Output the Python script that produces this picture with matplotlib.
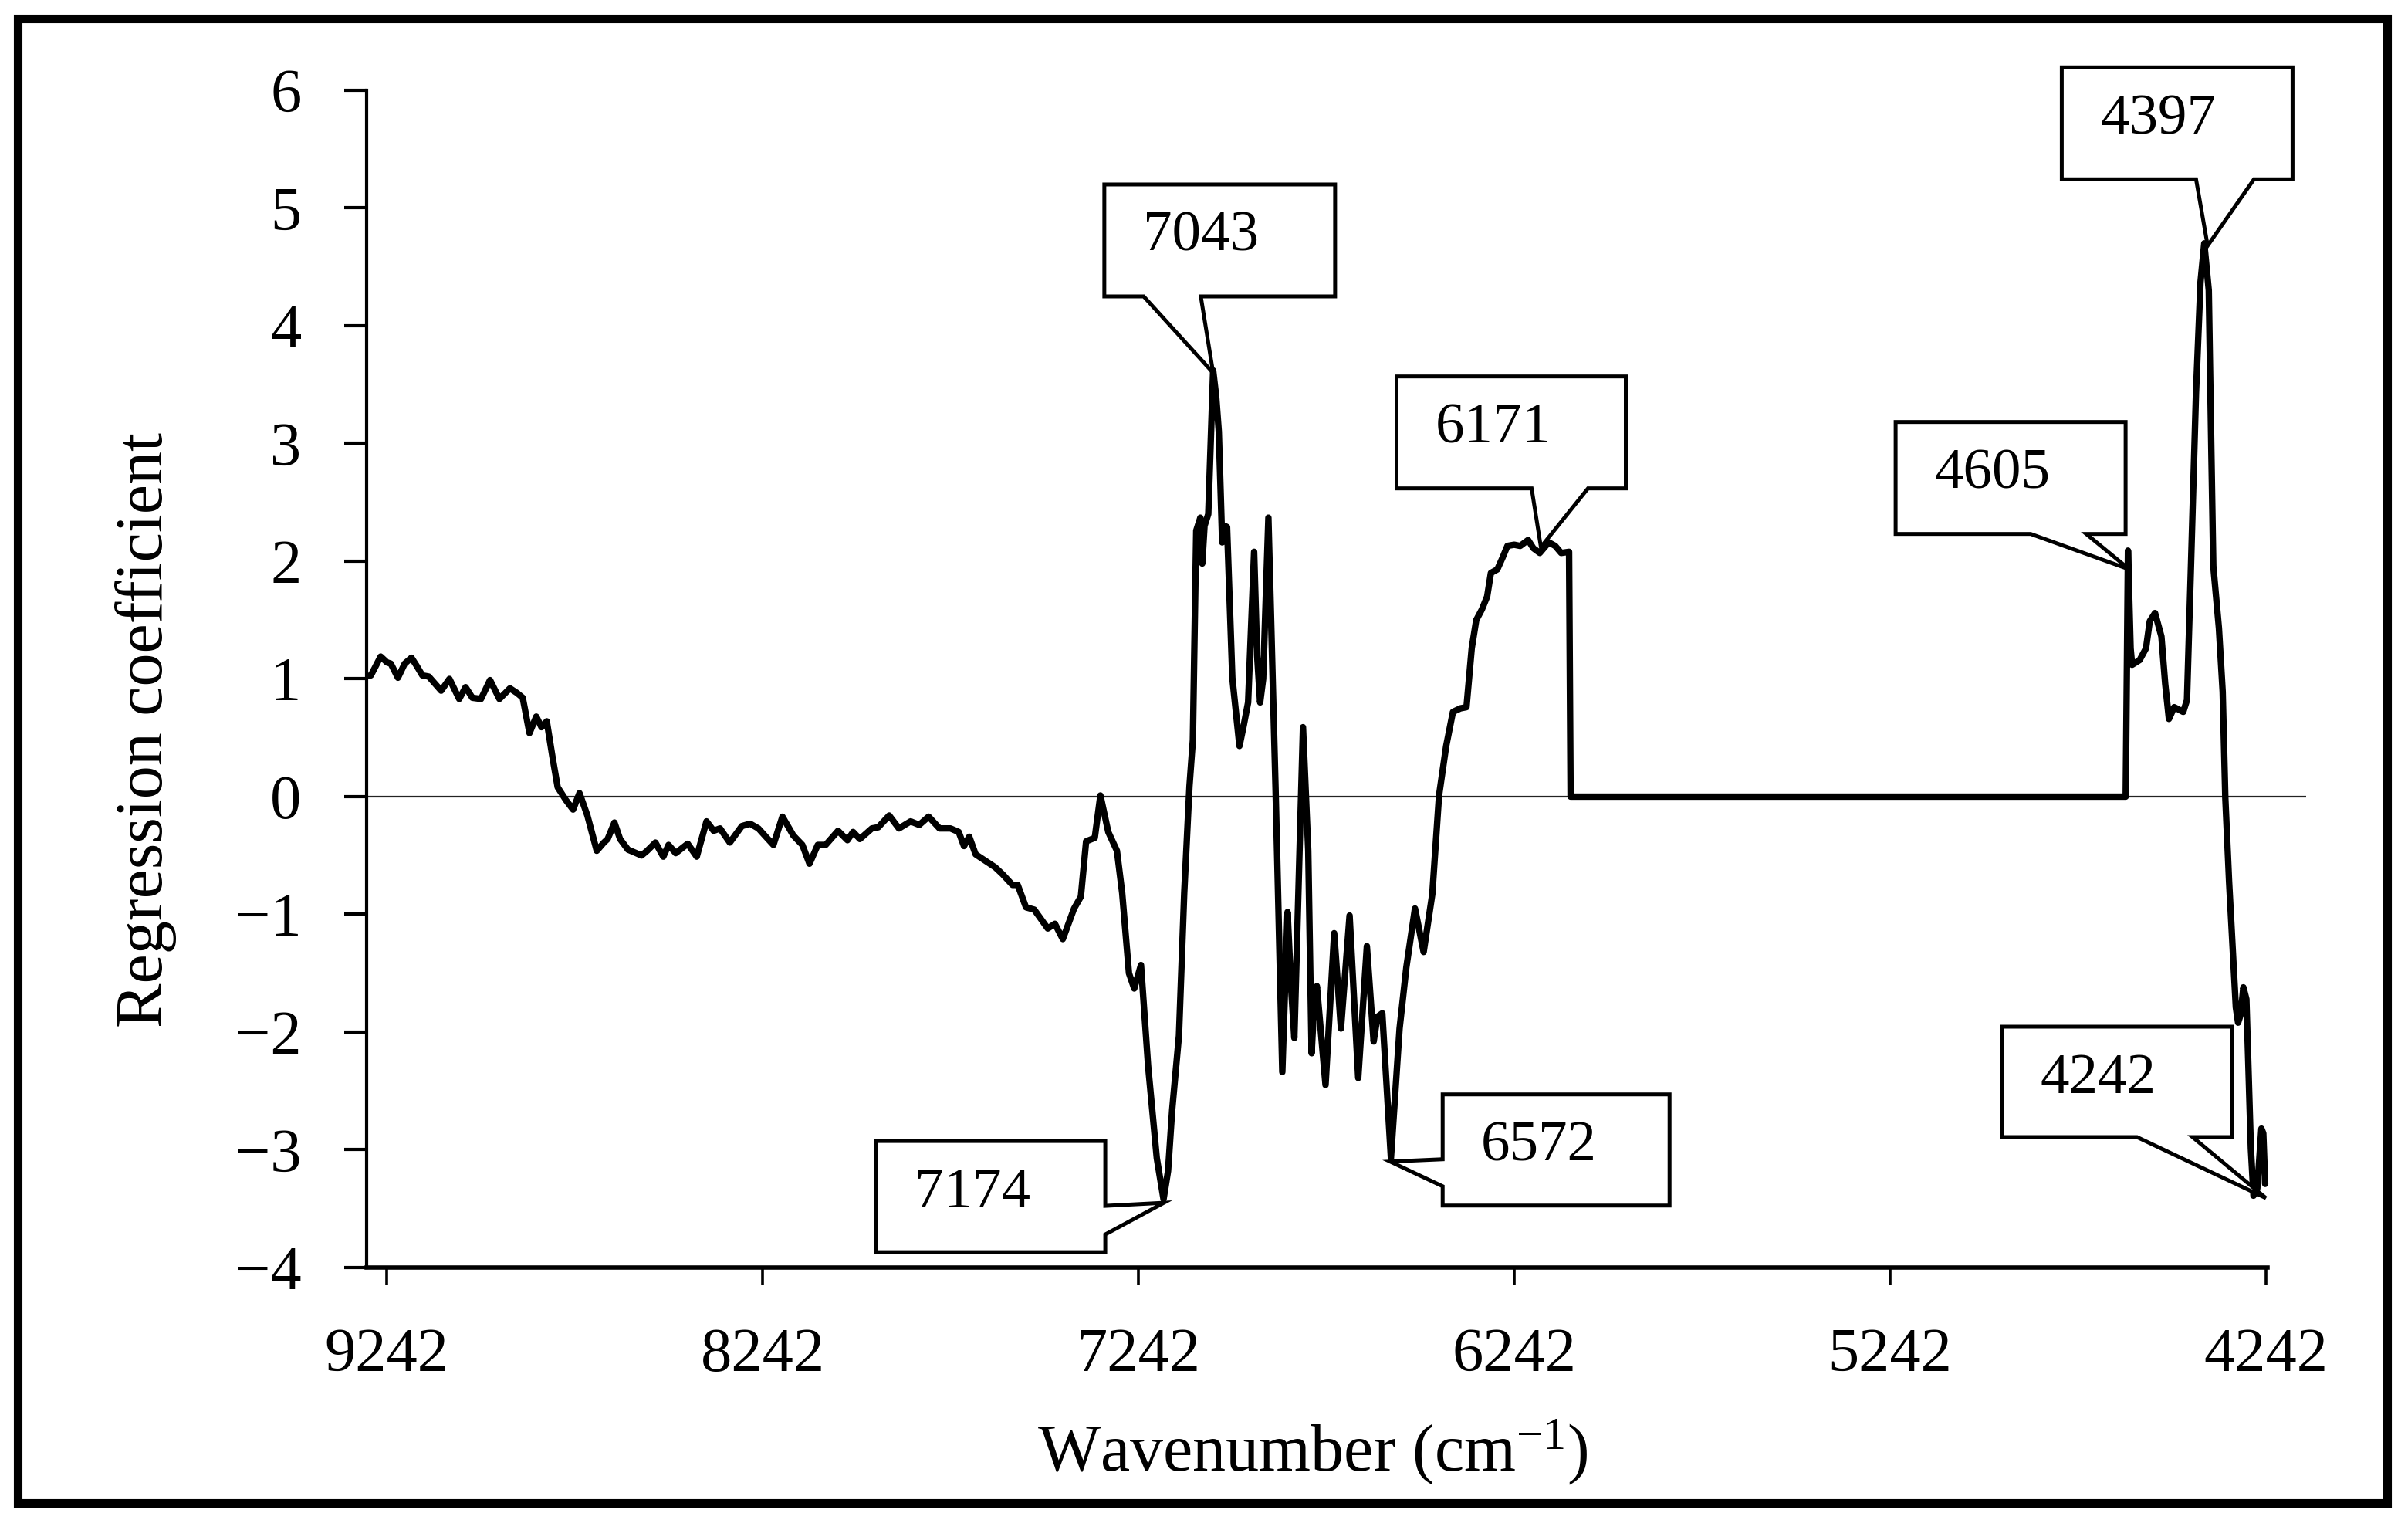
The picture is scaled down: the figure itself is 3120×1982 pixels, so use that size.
import matplotlib

matplotlib.use("Agg")
import matplotlib.pyplot as plt
import matplotlib.transforms as mtransforms
from matplotlib.patches import Polygon, Rectangle

# %%
wavenumber = [
    9298, 9284, 9258, 9241, 9231, 9212, 9194, 9176, 9162, 9147, 9130, 9097, 9075, 9049, 9032,
    9014, 8991, 8967, 8942, 8914, 8895, 8880, 8862, 8844, 8830, 8816, 8801, 8787, 8765, 8746,
    8729, 8708, 8683, 8664, 8654, 8636, 8621, 8600, 8578, 8564, 8549, 8527, 8506, 8492, 8473,
    8441, 8417, 8391, 8372, 8355, 8329, 8297, 8275, 8253, 8236, 8213, 8189, 8160, 8136, 8117,
    8095, 8074, 8041, 8016, 8001, 7983, 7951, 7934, 7905, 7879, 7848, 7825, 7800, 7771, 7742,
    7720, 7706, 7692, 7675, 7656, 7623, 7603, 7577, 7563, 7541, 7519, 7483, 7464, 7443, 7413,
    7404, 7395, 7381, 7358, 7343, 7322, 7299, 7285, 7267, 7253, 7235, 7216, 7193, 7175, 7163,
    7152, 7134, 7120, 7106, 7097, 7088, 7077, 7072, 7066, 7056, 7043, 7035, 7028, 7019, 7012,
    7006, 6992, 6973, 6962, 6950, 6934, 6926, 6918, 6910, 6896, 6877, 6859, 6845, 6836, 6827,
    6804, 6790, 6781, 6775, 6767, 6744, 6721, 6703, 6680, 6657, 6634, 6616, 6606, 6593, 6570,
    6547, 6529, 6506, 6483, 6460, 6442, 6423, 6405, 6385, 6369, 6355, 6343, 6328, 6314, 6304,
    6287, 6273, 6260, 6242, 6226, 6205, 6191, 6174, 6150, 6133, 6117, 6096, 6092, 4615, 4609,
    4602, 4598, 4578, 4561, 4551, 4537, 4520, 4510, 4500, 4486, 4462, 4452, 4442, 4428, 4416,
    4406, 4394, 4387, 4382, 4367, 4357, 4350, 4340, 4322, 4316, 4309, 4302, 4294, 4282, 4275,
    4265, 4254, 4249, 4244,
]
coefficient = [
    1.02, 1.03, 1.19, 1.14, 1.13, 1.01, 1.13, 1.18, 1.11, 1.03, 1.02, 0.90, 1.00, 0.83, 0.93,
    0.84, 0.83, 0.99, 0.83, 0.92, 0.88, 0.84, 0.54, 0.68, 0.59, 0.64, 0.34, 0.08, -0.03, -0.11,
    0.03, -0.16, -0.46, -0.39, -0.36, -0.22, -0.36, -0.45, -0.48, -0.50, -0.46, -0.39, -0.51, -0.41, -0.48,
    -0.40, -0.51, -0.21, -0.29, -0.27, -0.39, -0.25, -0.23, -0.27, -0.33, -0.41, -0.17, -0.33, -0.41, -0.57,
    -0.41, -0.41, -0.29, -0.37, -0.30, -0.36, -0.27, -0.26, -0.16, -0.27, -0.21, -0.24, -0.17, -0.27, -0.27,
    -0.30, -0.42, -0.34, -0.49, -0.53, -0.60, -0.66, -0.75, -0.75, -0.94, -0.96, -1.12, -1.08, -1.21, -0.95,
    -0.90, -0.85, -0.38, -0.35, 0.01, -0.30, -0.46, -0.82, -1.50, -1.63, -1.43, -2.29, -3.07, -3.42, -3.18,
    -2.66, -2.03, -0.82, 0.09, 0.48, 2.26, 2.37, 1.98, 2.30, 2.40, 3.62, 3.40, 3.10, 2.16, 2.30,
    2.29, 1.01, 0.43, 0.60, 0.80, 2.08, 1.20, 0.80, 1.00, 2.37, 0.07, -2.34, -0.98, -1.60, -2.05,
    0.59, -0.46, -2.18, -1.80, -1.61, -2.45, -1.16, -1.97, -1.01, -2.39, -1.27, -2.08, -1.87, -1.84, -3.07,
    -1.97, -1.45, -0.95, -1.32, -0.83, 0.01, 0.43, 0.72, 0.75, 0.76, 1.26, 1.50, 1.59, 1.70, 1.90,
    1.93, 2.03, 2.13, 2.14, 2.13, 2.18, 2.11, 2.07, 2.16, 2.13, 2.07, 2.08, 0.00, 0.00, 2.09,
    1.26, 1.12, 1.16, 1.26, 1.49, 1.56, 1.36, 0.96, 0.66, 0.76, 0.72, 0.82, 1.89, 3.43, 4.37,
    4.70, 4.30, 2.90, 1.96, 1.43, 0.89, -0.01, -0.72, -1.79, -1.92, -1.85, -1.62, -1.72, -2.99, -3.39,
    -3.33, -2.82, -2.86, -3.29,
]

# labelled peaks: wavenumber label and coefficient at the tip
callout_labels = ["7043", "6171", "7174", "6572", "4605", "4397", "4242"]
callout_values = [3.60, 2.12, -3.45, -3.10, 1.93, 4.68, -3.41]

x_ticks = [9242, 8242, 7242, 6242, 5242, 4242]
y_ticks = [-4, -3, -2, -1, 0, 1, 2, 3, 4, 5, 6]

# %%
plt.rcParams["font.family"] = ["Liberation Serif", "DejaVu Serif"]
plt.rcParams["mathtext.fontset"] = "custom"
plt.rcParams["mathtext.rm"] = "Liberation Serif"
plt.rcParams["mathtext.it"] = "Liberation Serif:italic"

DPI = 200
fig = plt.figure(figsize=(15.6, 9.91), dpi=DPI)
ax = fig.add_axes([0.15224, 0.17155, 0.80545, 0.76943])

ax.plot(wavenumber, coefficient, color="black", lw=3.0, solid_joinstyle="round",
        solid_capstyle="round", zorder=3)
ax.axhline(0, color="#222222", lw=0.8, zorder=2)

ax.set_xlim(9295.4, 4135)
ax.set_ylim(-4, 6)
ax.set_xticks(x_ticks)
ax.set_xticklabels([str(t) for t in x_ticks])
ax.set_yticks(y_ticks)

for side in ["top", "right"]:
    ax.spines[side].set_visible(False)
ax.spines["left"].set_linewidth(1.5)
ax.spines["bottom"].set_linewidth(2.0)
ax.spines["bottom"].set_bounds(9295.4, 4238)

ax.tick_params(axis="y", direction="out", length=10.5, width=1.5, pad=20, labelsize=29)
ax.tick_params(axis="x", direction="out", length=8, width=1.3, pad=20, labelsize=29)

ax.set_xlabel(r"Wavenumber (cm$^{-1}$)", fontsize=31, va="center")
ax.xaxis.set_label_coords(0.4875, -0.1567)
ax.set_ylabel("Regression coefficient", fontsize=31, va="center")
ax.yaxis.set_label_coords(-0.1138, 0.457)

# %%
# callout boxes, offsets in pixels from the tip (y grows downward)
# (left, right, top, bottom, tail side, tail base a, tail base b)
callout_layout = [
    (-141, 158, -244, -99, "bottom", -90, -16),
    (-187, 110, -221, -76, "bottom", -12, 61),
    (-373, -76, -80, 64, "right", 4, 41),
    (68, 362, -87, 57, "left", -3, 32),
    (-303, -5, -191, -46, "bottom", -128, -56),
    (-189, 110, -231, -86, "bottom", -15, 60),
    (-342, -44, -222, -79, "bottom", -167, -95),
]

for label, val, (L, R, T, B, side, a, b) in zip(callout_labels, callout_values, callout_layout):
    trans = mtransforms.Affine2D().scale(1, -1) + mtransforms.ScaledTranslation(
        float(label), val, ax.transData
    )
    if side == "bottom":
        verts = [(L, T), (R, T), (R, B), (b, B), (0, 0), (a, B), (L, B)]
    elif side == "right":
        verts = [(L, T), (R, T), (R, a), (0, 0), (R, b), (R, B), (L, B)]
    else:
        verts = [(L, T), (R, T), (R, B), (L, B), (L, b), (0, 0), (L, a)]
    poly = Polygon(verts, closed=True, facecolor="white", edgecolor="black",
                   lw=1.8, joinstyle="miter", transform=trans, zorder=5, clip_on=False)
    ax.add_patch(poly)
    ax.text(L + 50, T + 86, label, transform=trans, fontsize=27, ha="left",
            va="baseline", zorder=6, clip_on=False)

# outer frame round the whole figure
frame = Rectangle((0.00753, 0.01741), 0.98366, 0.97023, transform=fig.transFigure,
                  fill=False, edgecolor="black", lw=4.0, joinstyle="miter")
fig.patches.append(frame)

fig.savefig("out.png", dpi=DPI, facecolor="white")
